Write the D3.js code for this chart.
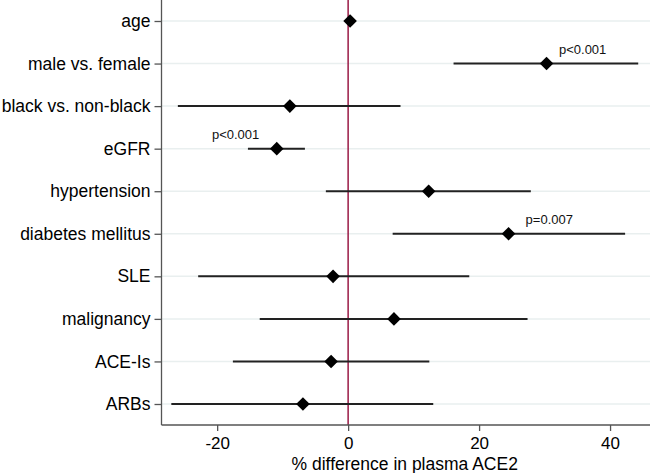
<!DOCTYPE html>
<html><head><meta charset="utf-8">
<script src="https://cdn.jsdelivr.net/npm/d3@7"></script>
<style>body{margin:0;background:#fff}svg{display:block}</style>
</head><body>
<svg id="c" width="650" height="473"></svg>
<script>
const categories = ["age","male vs. female","black vs. non-black","eGFR","hypertension","diabetes mellitus","SLE","malignancy","ACE-Is","ARBs"];
const estimates  = [0.3, 30.3, -8.9, -10.9, 12.3, 24.5, -2.3, 7.0, -2.6, -6.9];
const lower      = [0.1, 16.1, -26.0, -15.3, -3.4, 6.8, -22.9, -13.5, -17.6, -27.0];
const upper      = [0.5, 44.3, 8.0, -6.6, 27.9, 42.3, 18.5, 27.4, 12.4, 13.0];
const pLabels    = [null, "p<0.001", null, "p<0.001", null, "p=0.007", null, null, null, null];
const pLabelAt   = [null, 32.2, null, -20.8, null, 27.1, null, null, null, null];
const xTicks     = [-20, 0, 20, 40];
const xTitle     = "% difference in plasma ACE2";

const svg = d3.select("#c");
const font = "'Liberation Sans', Arial, Helvetica, sans-serif";
const L = 161.5, R = 650, T = 0, B = 425;

const x = d3.scaleLinear().domain([-28.5, 46.1]).range([L, R]);
const y = d3.scalePoint().domain(categories).range([21, 404]);

// gridlines
svg.append("g").selectAll("line").data(categories).join("line")
  .attr("x1", L).attr("x2", R)
  .attr("y1", d => y(d)).attr("y2", d => y(d))
  .attr("stroke", "#e9efef").attr("stroke-width", 1.5);

// reference line at 0
svg.append("line").attr("x1", x(0)).attr("x2", x(0)).attr("y1", T).attr("y2", B)
  .attr("stroke", "#9a1a45").attr("stroke-width", 1.5);

// y axis
const yAxis = d3.axisLeft(y).tickSize(7).tickPadding(4);
const gy = svg.append("g").attr("transform", `translate(${L},0)`).call(yAxis);
gy.select(".domain").attr("d", `M0,${T}V${B}`).attr("stroke", "#555").attr("stroke-width", 1.3);
gy.selectAll(".tick line").attr("stroke", "#555").attr("stroke-width", 1.3);
gy.selectAll(".tick text").attr("font-family", font).attr("font-size", 17.5).attr("fill", "#000");

// x axis
const xAxis = d3.axisBottom(x).tickValues(xTicks).tickSize(6).tickPadding(6).tickFormat(d3.format("d"));
const gx = svg.append("g").attr("transform", `translate(0,${B})`).call(xAxis);
gx.select(".domain").attr("d", `M${L},0H${R}`).attr("stroke", "#555").attr("stroke-width", 1.3);
gx.selectAll(".tick line").attr("stroke", "#555").attr("stroke-width", 1.3);
gx.selectAll(".tick text").attr("font-family", font).attr("font-size", 17).attr("fill", "#000")
  .text(d => d < 0 ? "-" + Math.abs(d) : d);

svg.append("text").attr("x", (L + R) / 2 - 1).attr("y", 469.5).attr("text-anchor", "middle")
  .attr("font-family", font).attr("font-size", 17.5).attr("fill", "#000").text(xTitle);

const rows = categories.map((c, i) => ({c, est: estimates[i], lo: lower[i], hi: upper[i], p: pLabels[i], px: pLabelAt[i]}));

// CI lines
svg.append("g").selectAll("line").data(rows).join("line")
  .attr("x1", d => x(d.lo)).attr("x2", d => x(d.hi))
  .attr("y1", d => y(d.c)).attr("y2", d => y(d.c))
  .attr("stroke", "#222").attr("stroke-width", 2);

// diamonds
const h = 6.8;
svg.append("g").selectAll("path").data(rows).join("path")
  .attr("d", d => { const cx = x(d.est), cy = y(d.c); return `M${cx},${cy-h}L${cx+h},${cy}L${cx},${cy+h}L${cx-h},${cy}Z`; })
  .attr("fill", "#000");

// p-value annotations
svg.append("g").selectAll("text").data(rows.filter(d => d.p)).join("text")
  .attr("x", d => x(d.px)).attr("y", d => y(d.c) - 10)
  .attr("font-family", font).attr("font-size", 13).attr("fill", "#111")
  .text(d => d.p);
</script>
</body></html>
